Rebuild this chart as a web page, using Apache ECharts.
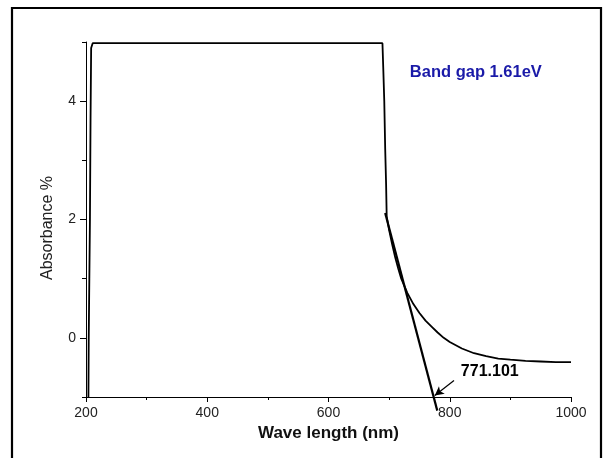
<!DOCTYPE html>
<html>
<head>
<meta charset="utf-8">
<script src="https://cdn.jsdelivr.net/npm/echarts@6/dist/echarts.min.js"></script>
<style>
html,body{margin:0;padding:0;background:#fff;}
#c{width:605px;height:458px;}
</style>
</head>
<body>
<div id="c"></div>
<script>
// Absorbance spectrum
var wavelength = [204, 204.5, 205.5, 206.5, 207.5, 208.5, 211, 300, 400, 500, 600, 689, 690.5, 692, 693.5, 695, 696, 700, 705, 710, 715, 720, 730, 740, 750, 760, 770, 780, 790, 800, 820, 840, 860, 880, 900, 925, 950, 975, 1000];
var absorbance = [-1.0, 0.0, 1.0, 2.0, 3.7, 4.9, 4.98, 4.98, 4.98, 4.98, 4.98, 4.98, 4.5, 4.0, 3.2, 2.6, 2.05, 1.82, 1.58, 1.36, 1.17, 1.0, 0.76, 0.57, 0.42, 0.29, 0.19, 0.09, 0.0, -0.07, -0.18, -0.26, -0.31, -0.35, -0.37, -0.39, -0.40, -0.41, -0.41];
// Tangent (band edge extrapolation)
var tangentX = [693.5, 779.4];
var tangentY = [2.11, -1.23];
// Annotation arrow
var arrowFrom = [807, -0.72];
var arrowTo = [775.3, -0.975];
var edgeLabel = '771.101';
var edgeLabelPos = [866, -0.57];
var gapLabel = 'Band gap 1.61eV';
var gapLabelPos = [843, 4.48];
// Axis ticks
var yMajorTicks = [0, 2, 4];
var yMinorTicks = [-1, 1, 3, 5];

var curve = wavelength.map(function (w, i) { return [w, absorbance[i]]; });
var tangent = tangentX.map(function (w, i) { return [w, tangentY[i]]; });

var chart = echarts.init(document.getElementById('c'), null, {renderer: 'canvas'});
var font = 'Liberation Sans, Arial, sans-serif';
chart.setOption({
  animation: false,
  backgroundColor: '#fff',
  grid: {left: 86, right: 34, top: 42, bottom: 61},
  xAxis: {
    type: 'value', min: 200, max: 1000, interval: 200,
    name: 'Wave length (nm)', nameLocation: 'middle', nameGap: 28,
    nameTextStyle: {fontFamily: font, fontWeight: 'bold', fontSize: 17, color: '#111'},
    axisLine: {show: true, onZero: false, lineStyle: {color: '#000', width: 1}},
    axisTick: {show: true, length: 5, lineStyle: {color: '#000'}},
    minorTick: {show: true, splitNumber: 2, length: 3, lineStyle: {color: '#000'}},
    axisLabel: {fontFamily: font, fontSize: 14, color: '#222', margin: 9,
      formatter: function (v) { return String(v); }},
    splitLine: {show: false}
  },
  yAxis: [{
    type: 'value', min: -1, max: 5,
    name: 'Absorbance %', nameLocation: 'middle', nameGap: 30, nameRotate: 90,
    nameTextStyle: {fontFamily: font, fontSize: 16, color: '#222', padding: [0, 17, 0, 0]},
    axisLine: {show: true, onZero: false, lineStyle: {color: '#000', width: 1}},
    axisTick: {show: true, length: 6, customValues: yMajorTicks, lineStyle: {color: '#000'}},
    axisLabel: {fontFamily: font, fontSize: 14, color: '#222', margin: 10, customValues: yMajorTicks},
    splitLine: {show: false}
  }, {
    type: 'value', min: -1, max: 5, position: 'left',
    axisLine: {show: false},
    axisTick: {show: true, length: 4, customValues: yMinorTicks, lineStyle: {color: '#000'}},
    axisLabel: {show: false},
    splitLine: {show: false}
  }],
  graphic: [{
    type: 'rect', shape: {x: 12, y: 8, width: 589, height: 460},
    style: {fill: null, stroke: '#000', lineWidth: 2.2}, silent: true, z: 100
  }],
  series: [{
    type: 'line', data: curve, showSymbol: false, symbol: 'none',
    lineStyle: {color: '#000', width: 1.8}, clip: true
  }, {
    type: 'line', data: tangent, showSymbol: false, symbol: 'none',
    lineStyle: {color: '#000', width: 2.2}, clip: false,
    markLine: {
      silent: true, symbol: ['none', 'arrow'], symbolSize: [7, 9],
      lineStyle: {color: '#000', width: 1.2, type: 'solid'},
      label: {show: false},
      data: [[{coord: arrowFrom}, {coord: arrowTo}]]
    }
  }, {
    type: 'scatter', symbolSize: 0, itemStyle: {color: '#111', opacity: 1},
    data: [edgeLabelPos],
    label: {show: true, position: 'inside', formatter: edgeLabel, opacity: 1,
      fontFamily: font, fontWeight: 'bold', fontSize: 16, color: '#000',
      textBorderWidth: 0}
  }, {
    type: 'scatter', symbolSize: 0, itemStyle: {color: '#1c1ca6', opacity: 1},
    data: [gapLabelPos],
    label: {show: true, position: 'inside', formatter: gapLabel, opacity: 1,
      fontFamily: font, fontWeight: 'bold', fontSize: 16.5, color: '#1a1aa8',
      textBorderWidth: 0}
  }]
});
</script>
</body>
</html>
